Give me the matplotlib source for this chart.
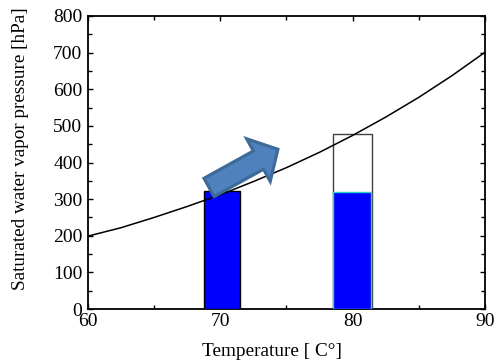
import matplotlib
matplotlib.use("Agg")
import matplotlib.pyplot as plt
from matplotlib.patches import FancyArrowPatch, ArrowStyle
from matplotlib.ticker import MultipleLocator

# Saturated vapor pressure curve
curve_t = [60, 62.5, 65, 67.5, 70, 72.5, 75, 77.5, 80, 82.5, 85, 87.5, 90]
curve_p = [199, 222, 250, 280, 312, 348, 386, 428, 474, 524, 578, 637, 701]

# Bars
bar_t = [70, 80]
bar_filled = [322, 320]
bar_outline_t = [80]
bar_outline = [479]

# Arrow (start/end in data units)
arrow_start = (69.15, 332)
arrow_end = (74.35, 436)

plt.rcParams['font.family'] = ['Liberation Serif', 'DejaVu Serif']
plt.rcParams['mathtext.fontset'] = 'stix'

fig = plt.figure(figsize=(4.96, 3.64), dpi=100)
ax = fig.add_axes([88/496, 1-309/364, (485-88)/496, (309-16)/364])

# outline bar
ax.bar([t + 0.0 for t in bar_outline_t], bar_outline, width=2.95, color='white',
       edgecolor='#404040', linewidth=1.0, zorder=2)
# filled bars
ax.bar([bar_t[0] + 0.14], [bar_filled[0]], width=2.74, color='#0000FF',
       edgecolor='black', linewidth=1.0, zorder=3)
ax.bar([bar_t[1] - 0.03], [bar_filled[1]], width=2.85, color='#0000FF',
       edgecolor='#33CCCC', linewidth=1.0, zorder=3)

ax.plot(curve_t, curve_p, color='black', linewidth=1.1, zorder=4)

arrow = FancyArrowPatch(arrow_start, arrow_end,
                        arrowstyle=ArrowStyle.Simple(head_length=16, head_width=35, tail_width=15),
                        mutation_scale=1, shrinkA=0, shrinkB=0,
                        facecolor='#4F81BD', edgecolor='#3E6A99', linewidth=2.3,
                        joinstyle='miter', zorder=5)
ax.add_patch(arrow)

ax.set_xlim(60, 90)
ax.set_ylim(0, 800)
ax.xaxis.set_major_locator(MultipleLocator(10))
ax.xaxis.set_minor_locator(MultipleLocator(5))
ax.yaxis.set_major_locator(MultipleLocator(100))
ax.yaxis.set_minor_locator(MultipleLocator(50))
ax.tick_params(which='both', direction='in', top=True, right=True, width=1.0)
ax.tick_params(which='major', length=3.5, labelsize=14)
ax.tick_params(which='minor', length=3.0)
ax.tick_params(axis='x', which='major', pad=3)
ax.tick_params(axis='y', which='major', pad=4)
for s in ax.spines.values():
    s.set_linewidth(1.3)

ax.set_xlabel('Temperature [ C°]', fontsize=13.9)
ax.set_ylabel('Saturated water vapor pressure [hPa]', fontsize=13.8)
ax.xaxis.set_label_coords(0.4635, -0.116)
ax.yaxis.set_label_coords(-0.148, 0.546)

fig.savefig('out.png', dpi=100)
